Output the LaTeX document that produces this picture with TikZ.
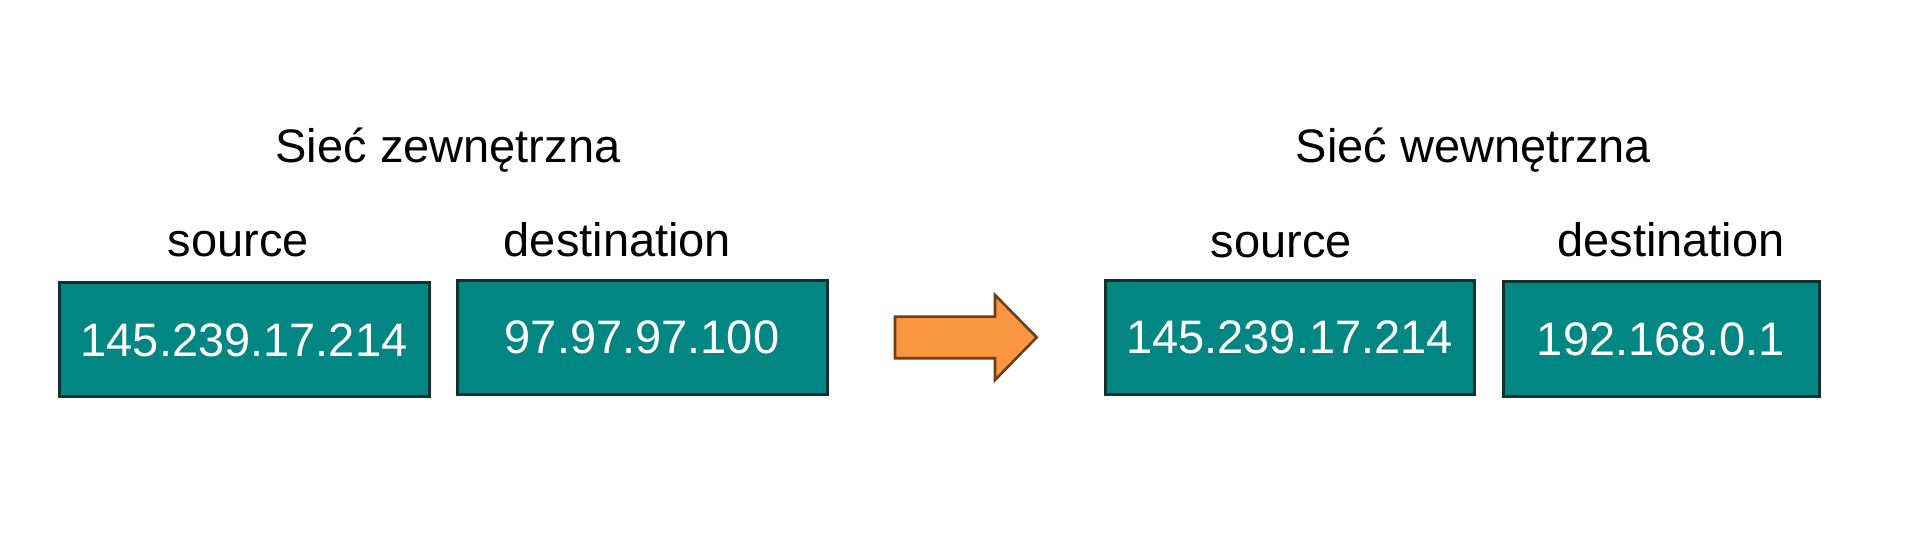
\documentclass[tikz,border=0pt]{standalone}
\usepackage{fontspec}
\setmainfont{Liberation Sans}
\definecolor{boxfill}{RGB}{2,134,131}
\definecolor{boxline}{RGB}{12,52,50}
\definecolor{arrfill}{RGB}{250,150,64}
\definecolor{arrline}{RGB}{110,62,22}
\begin{document}
\begin{tikzpicture}[x=1pt,y=1pt,
  big/.style={font=\fontsize{47pt}{56pt}\selectfont},
  label/.style={big, anchor=base, inner sep=0pt, text=black},
  addr/.style={big, draw=boxline, line width=3pt, fill=boxfill, text=white,
     inner sep=0pt, anchor=center}]
\useasboundingbox (0,0) rectangle (1920,544);
% titles
\node[label] (t1) at (448,381) {Sieć zewnętrzna};
\node[label] (t2) at (1473.5,381) {Sieć wewnętrzna};
% column labels
\node[label] (s1) at (238.5,287) {source};
\node[label] (d1) at (617.5,287) {destination};
\node[label] (s2) at (1281.5,286) {source};
\node[label] (d2) at (1671,287) {destination};
% address boxes
\node[addr, minimum width=370pt, minimum height=114pt] (b1) at (244,204) {145.239.17.214};
\node[addr, minimum width=370pt, minimum height=114pt] (b2) at (642,206.5) {97.97.97.100};
\node[addr, minimum width=369pt, minimum height=114pt] (b3) at (1289.5,206.5) {145.239.17.214};
\node[addr, minimum width=316pt, minimum height=115pt] (b4) at (1661,204.5) {192.168.0.1};
% arrow
\draw[fill=arrfill, draw=arrline, line width=2.6pt, line join=miter]
  (895,227.3) -- (995,227.3) -- (995,249) -- (1036.7,206.7) -- (995,164) -- (995,185.7) -- (895,185.7) -- cycle;
\end{tikzpicture}
\end{document}
